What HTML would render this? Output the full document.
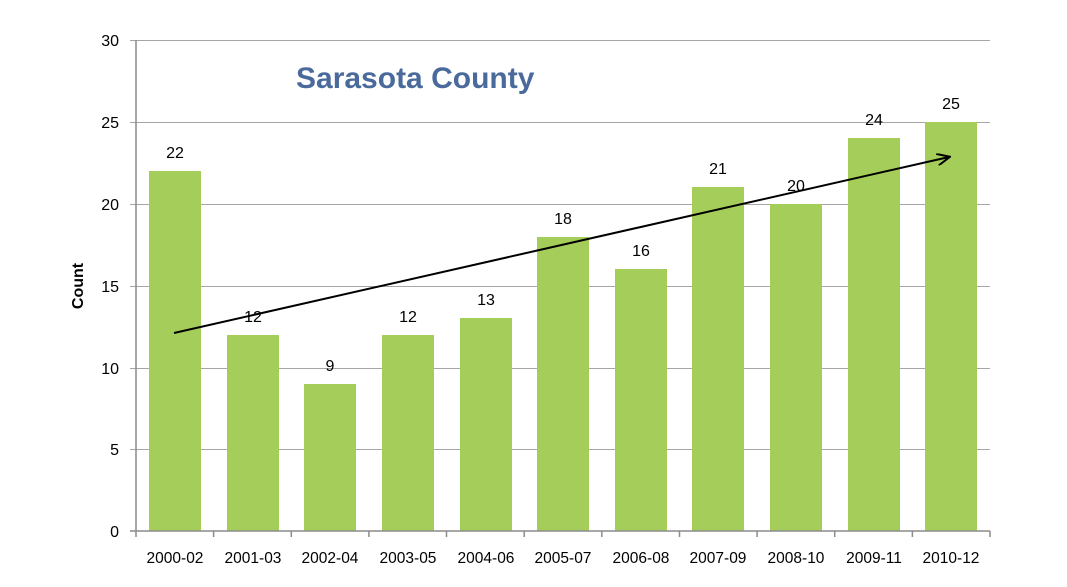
<!DOCTYPE html>
<html><head><style>
html,body{margin:0;padding:0;background:#fff;}
svg text{font-family:"Liberation Sans",sans-serif;}
</style></head><body>
<svg width="1067" height="582" viewBox="0 0 1067 582" xmlns="http://www.w3.org/2000/svg">
<defs><marker id="ah" markerWidth="14" markerHeight="12" refX="12" refY="6" orient="auto" markerUnits="userSpaceOnUse">
<path d="M0,0 L13,6 L0,12" fill="none" stroke="#000" stroke-width="2"/></marker></defs>
<g stroke="#a6a6a6" stroke-width="1">
<line x1="130" y1="40.5" x2="990" y2="40.5"/>
<line x1="130" y1="122.5" x2="990" y2="122.5"/>
<line x1="130" y1="204.5" x2="990" y2="204.5"/>
<line x1="130" y1="286.5" x2="990" y2="286.5"/>
<line x1="130" y1="368.5" x2="990" y2="368.5"/>
<line x1="130" y1="449.5" x2="990" y2="449.5"/>
</g>
<g fill="#a4cd5a">
<rect x="149" y="171" width="52" height="360"/>
<rect x="227" y="335" width="52" height="196"/>
<rect x="304" y="384" width="52" height="147"/>
<rect x="382" y="335" width="52" height="196"/>
<rect x="460" y="318" width="52" height="213"/>
<rect x="537" y="237" width="52" height="294"/>
<rect x="615" y="269" width="52" height="262"/>
<rect x="692" y="187" width="52" height="344"/>
<rect x="770" y="204" width="52" height="327"/>
<rect x="848" y="138" width="52" height="393"/>
<rect x="925" y="122" width="52" height="409"/>
</g>
<g stroke="#8c8c8c" stroke-width="1.5">
<line x1="136" y1="40" x2="136" y2="537"/>
<line x1="130" y1="531" x2="990" y2="531"/>
<line x1="213.6" y1="531" x2="213.6" y2="537"/>
<line x1="291.3" y1="531" x2="291.3" y2="537"/>
<line x1="368.9" y1="531" x2="368.9" y2="537"/>
<line x1="446.5" y1="531" x2="446.5" y2="537"/>
<line x1="524.2" y1="531" x2="524.2" y2="537"/>
<line x1="601.8" y1="531" x2="601.8" y2="537"/>
<line x1="679.5" y1="531" x2="679.5" y2="537"/>
<line x1="757.1" y1="531" x2="757.1" y2="537"/>
<line x1="834.7" y1="531" x2="834.7" y2="537"/>
<line x1="912.4" y1="531" x2="912.4" y2="537"/>
<line x1="990" y1="531" x2="990" y2="537"/>
</g>
<g font-size="16" text-anchor="end" fill="#000">
<text x="119" y="46">30</text><text x="119" y="128">25</text><text x="119" y="210">20</text>
<text x="119" y="292">15</text><text x="119" y="374">10</text><text x="119" y="455">5</text><text x="119" y="537">0</text>
</g>
<g font-size="15.5" text-anchor="middle" fill="#000">
<text x="175" y="563">2000-02</text><text x="253" y="563">2001-03</text><text x="330" y="563">2002-04</text>
<text x="408" y="563">2003-05</text><text x="486" y="563">2004-06</text><text x="563" y="563">2005-07</text>
<text x="641" y="563">2006-08</text><text x="718" y="563">2007-09</text><text x="796" y="563">2008-10</text>
<text x="874" y="563">2009-11</text><text x="951" y="563">2010-12</text>
</g>
<g font-size="16" text-anchor="middle" fill="#000">
<text x="175" y="158">22</text><text x="253" y="322">12</text><text x="330" y="371">9</text>
<text x="408" y="322">12</text><text x="486" y="305">13</text><text x="563" y="224">18</text>
<text x="641" y="256">16</text><text x="718" y="174">21</text><text x="796" y="191">20</text>
<text x="874" y="125">24</text><text x="951" y="109">25</text>
</g>
<text x="83" y="286" font-size="16" font-weight="bold" text-anchor="middle" transform="rotate(-90 83 286)">Count</text>
<text x="296" y="88" font-size="30" font-weight="bold" fill="#4a6a9c">Sarasota County</text>
<line x1="174" y1="333" x2="949" y2="157" stroke="#000" stroke-width="2" marker-end="url(#ah)"/>
</svg>
</body></html>
